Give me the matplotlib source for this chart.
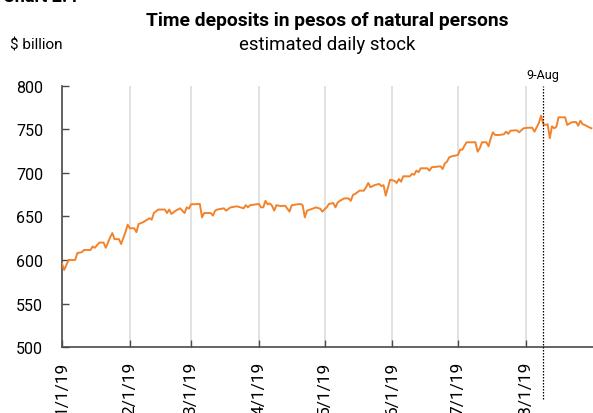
import pandas as pd
import matplotlib
matplotlib.use("Agg")
import matplotlib.pyplot as plt
import matplotlib.dates as mdates

plt.rcParams["font.family"] = ["Roboto", "DejaVu Sans"]

ORANGE, GRID, SPINE = "#F3832B", "#DDDDDD", "#4A4A4A"

# daily stock, $ billion
dates = [
    "2019-01-01", "2019-01-02", "2019-01-04", "2019-01-07", "2019-01-08", "2019-01-10", "2019-01-11",
    "2019-01-14", "2019-01-15", "2019-01-16", "2019-01-18", "2019-01-20", "2019-01-21", "2019-01-23",
    "2019-01-24", "2019-01-25", "2019-01-27", "2019-01-28", "2019-01-30", "2019-01-31",
    "2019-02-01", "2019-02-03", "2019-02-04", "2019-02-05", "2019-02-07", "2019-02-10", "2019-02-11",
    "2019-02-12", "2019-02-14", "2019-02-17", "2019-02-18", "2019-02-19", "2019-02-20", "2019-02-22",
    "2019-02-24", "2019-02-26", "2019-02-27", "2019-02-28",
    "2019-03-01", "2019-03-05", "2019-03-06", "2019-03-07", "2019-03-10", "2019-03-11", "2019-03-12",
    "2019-03-13", "2019-03-16", "2019-03-17", "2019-03-19", "2019-03-22", "2019-03-25", "2019-03-26",
    "2019-03-27", "2019-03-28",
    "2019-04-01", "2019-04-02", "2019-04-03", "2019-04-04", "2019-04-05", "2019-04-06", "2019-04-07",
    "2019-04-08", "2019-04-09", "2019-04-11", "2019-04-13", "2019-04-15", "2019-04-16", "2019-04-20",
    "2019-04-21", "2019-04-22", "2019-04-23", "2019-04-26", "2019-04-27", "2019-04-29", "2019-04-30",
    "2019-05-02", "2019-05-03", "2019-05-05", "2019-05-06", "2019-05-07", "2019-05-08", "2019-05-10",
    "2019-05-12", "2019-05-13", "2019-05-14", "2019-05-15", "2019-05-17", "2019-05-19", "2019-05-20",
    "2019-05-21", "2019-05-22", "2019-05-24", "2019-05-26", "2019-05-27", "2019-05-28", "2019-05-29",
    "2019-05-31",
    "2019-06-02", "2019-06-03", "2019-06-04", "2019-06-05", "2019-06-06", "2019-06-09", "2019-06-10",
    "2019-06-11", "2019-06-12", "2019-06-13", "2019-06-14", "2019-06-17", "2019-06-18", "2019-06-19",
    "2019-06-23", "2019-06-24", "2019-06-25", "2019-06-26", "2019-06-27", "2019-06-28",
    "2019-07-01", "2019-07-02", "2019-07-03", "2019-07-04", "2019-07-05", "2019-07-09", "2019-07-10",
    "2019-07-11", "2019-07-12", "2019-07-14", "2019-07-15", "2019-07-16", "2019-07-17", "2019-07-18",
    "2019-07-20", "2019-07-22", "2019-07-23", "2019-07-24", "2019-07-25", "2019-07-27", "2019-07-28",
    "2019-07-29", "2019-07-31",
    "2019-08-02", "2019-08-04", "2019-08-05", "2019-08-07", "2019-08-08", "2019-08-09", "2019-08-10",
    "2019-08-11", "2019-08-12", "2019-08-13", "2019-08-14", "2019-08-15", "2019-08-16", "2019-08-19",
    "2019-08-20", "2019-08-22", "2019-08-24", "2019-08-25", "2019-08-26", "2019-08-27", "2019-08-28",
    "2019-08-30", "2019-08-31",
]
values = [
    596, 588.6, 600, 600, 608, 609, 611.5, 611.5, 615.5, 614, 620, 620, 614, 626, 631, 624, 624, 618.4, 632, 640.6,
    636.5, 636.5, 632, 641.4, 643.3, 648, 646.4, 654, 658, 658, 654, 658, 652.9, 656.7, 659.4, 654, 660.5, 659,
    664, 664.4, 649, 654, 654, 651, 656.7, 658, 659.4, 656.7, 660.5, 661.7, 659.4, 663, 660.5, 663,
    664.4, 660.5, 660.5, 668, 664, 665, 662.4, 656.7, 663, 662, 662.4, 655.6, 663, 664.4, 663, 649, 656.7,
    659.4, 660.5, 659, 655.6,
    660.5, 664.4, 665.5, 660.5, 666, 668, 670.8, 670.8, 668, 674.7, 675.9, 679.7, 679.7, 683.6, 688.5, 683.6,
    686.2, 687.4, 685, 686, 674, 692.3,
    691, 688.5, 693, 690, 696.2, 696.2, 698.9, 698, 702.7, 701, 705.4, 705.4, 702.7, 706.6, 707.7, 704.6,
    711, 713, 718, 719,
    720.7, 726.8, 726.8, 731.4, 735.3, 735.3, 724.5, 728.4, 735.3, 735.3, 730.7, 739.9, 746.8, 743.7, 743.7,
    744.5, 747.5, 745, 748.6, 749, 749, 746.8, 751.4,
    752, 752, 747.5, 757.5, 765.9, 756.3, 755.2, 756, 740, 753.7, 751.4, 753, 764, 764, 755.2, 758.3, 758.6,
    754.4, 760.1, 756, 755.2, 752.5, 751.4,
]
marker_date = "2019-08-09"
marker_label = "9-Aug"
y_ticks = [500, 550, 600, 650, 700, 750, 800]

x = pd.to_datetime(dates)

fig = plt.figure(figsize=(5.93, 4.14), dpi=100)
ax = fig.add_axes([0.1046, 0.1594, 0.8954, 0.6305])

ax.plot(x, values, color=ORANGE, lw=1.4, zorder=3)

ax.set_xlim(pd.Timestamp("2019-01-01"), pd.Timestamp("2019-08-31 18:00"))
ax.set_ylim(500, 800)
ax.set_yticks(y_ticks)

ax.xaxis.set_major_locator(mdates.MonthLocator())
ax.xaxis.set_major_formatter(plt.FuncFormatter(
    lambda v, p: (lambda d: f"{d.month}/{d.day}/{d:%y}")(mdates.num2date(v))))
ax.grid(axis="x", color=GRID, lw=1.2, zorder=0)
ax.grid(axis="y", visible=False)

for s in ["top", "right"]:
    ax.spines[s].set_visible(False)
for s in ["left", "bottom"]:
    ax.spines[s].set_color(SPINE)
    ax.spines[s].set_linewidth(1.2)
ax.tick_params(axis="both", direction="in", length=5, width=1, color=SPINE)
ax.tick_params(axis="y", pad=13.5, labelsize=11.5)
ax.tick_params(axis="x", pad=10, labelrotation=90, labelsize=12.5)

md = pd.Timestamp(marker_date)
ax.axvline(md, ymin=-0.2, ymax=1.0, color="black", ls=(0, (1.2, 1.2)), lw=0.9, clip_on=False, zorder=4)
ax.text(md, 1.045, marker_label, transform=ax.get_xaxis_transform(), ha="center", va="center", fontsize=9)

fig.text(0.552, 0.950, "Time deposits in pesos of natural persons", ha="center", va="center",
         fontsize=13.9, fontweight="bold")
fig.text(0.552, 0.891, "estimated daily stock", ha="center", va="center", fontsize=13.4)
fig.text(0.017, 0.889, "$ billion", ha="left", va="center", fontsize=11)
fig.text(0.005, 1.008, "Chart 2.4", ha="left", va="center", fontsize=13, fontweight="bold")

fig.savefig("out.png", dpi=100)
